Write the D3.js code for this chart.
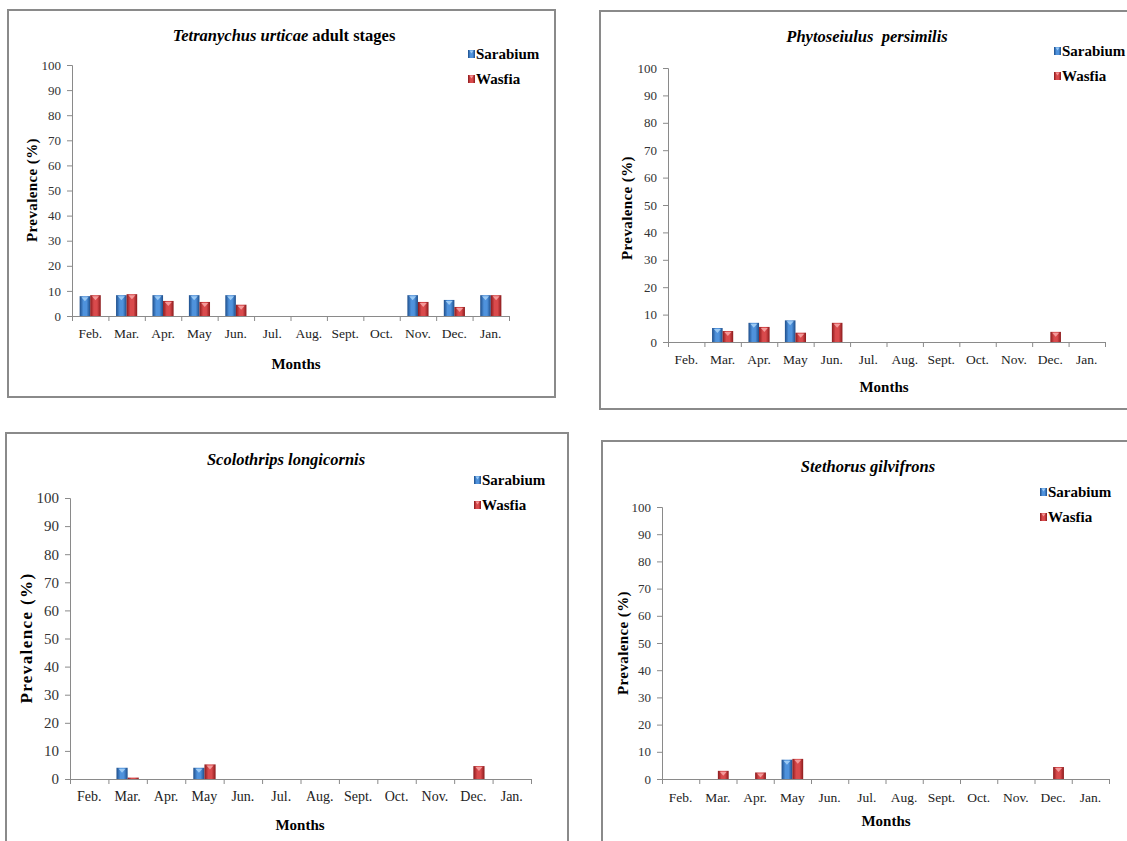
<!DOCTYPE html>
<html lang="en">
<head>
<meta charset="UTF-8">
<title>Prevalence by month</title>
<script src="https://d3js.org/d3.v7.min.js"></script>
<style>
  body { margin: 0; background: #fff; }
</style>
</head>
<body>
<script>
const FONT = "'Liberation Serif', 'Times New Roman', serif";

// months shown on every x axis
const months = ["Feb.", "Mar.", "Apr.", "May", "Jun.", "Jul.", "Aug.", "Sept.", "Oct.", "Nov.", "Dec.", "Jan."];
const seriesNames = ["Sarabium", "Wasfia"];
const yTicks = [0, 10, 20, 30, 40, 50, 60, 70, 80, 90, 100];

// values (prevalence %)
const tetranychusSarabium = [7.9, 8.3, 8.3, 8.3, 8.3, 0, 0, 0, 0, 8.3, 6.4, 8.3];
const tetranychusWasfia   = [8.3, 8.7, 6.0, 5.6, 4.5, 0, 0, 0, 0, 5.6, 3.6, 8.3];
const phytoseiulusSarabium = [0, 5.1, 7.0, 7.9, 0, 0, 0, 0, 0, 0, 0, 0];
const phytoseiulusWasfia   = [0, 4.0, 5.5, 3.4, 7.0, 0, 0, 0, 0, 0, 3.7, 0];
const scolothripsSarabium = [0, 4.0, 0, 4.0, 0, 0, 0, 0, 0, 0, 0, 0];
const scolothripsWasfia   = [0, 0.5, 0, 5.2, 0, 0, 0, 0, 0, 0, 4.6, 0];
const stethorusSarabium = [0, 0, 0, 7.1, 0, 0, 0, 0, 0, 0, 0, 0];
const stethorusWasfia   = [0, 3.0, 2.4, 7.4, 0, 0, 0, 0, 0, 0, 4.4, 0];

// layout of the four panels
const panels = [
  { title: [["Tetranychus urticae", true], [" adult stages", false]],
    s1: tetranychusSarabium, s2: tetranychusWasfia,
    box: [8, 10, 547, 387], x0: 72, x1: 509, yTop: 65, yBot: 316,
    titleX: 284, titleY: 41, legX: 468, legY: 56, monthY: 338, monthsX: 296, monthsY: 369,
    yTitleX: 32, yTitleY: 190, tickFs: 13, monFs: 13.5, yTitleFs: 15, yTitleLs: 0.4 },
  { title: [["Phytoseiulus  persimilis", true]],
    s1: phytoseiulusSarabium, s2: phytoseiulusWasfia,
    box: [600, 11, 540, 398], x0: 668, x1: 1105, yTop: 68, yBot: 342,
    titleX: 867, titleY: 42, legX: 1054, legY: 53, monthY: 364, monthsX: 884, monthsY: 392,
    yTitleX: 627, yTitleY: 208, tickFs: 13, monFs: 13.5, yTitleFs: 15, yTitleLs: 0.4 },
  { title: [["Scolothrips longicornis", true]],
    s1: scolothripsSarabium, s2: scolothripsWasfia,
    box: [6, 433, 562, 430], x0: 70, x1: 531, yTop: 498, yBot: 779,
    titleX: 286, titleY: 465, legX: 474, legY: 482, monthY: 801, monthsX: 300, monthsY: 830,
    yTitleX: 26, yTitleY: 638, tickFs: 15, monFs: 14, yTitleFs: 17, yTitleLs: 1.4 },
  { title: [["Stethorus gilvifrons", true]],
    s1: stethorusSarabium, s2: stethorusWasfia,
    box: [602, 441, 540, 420], x0: 662, x1: 1109, yTop: 507, yBot: 779,
    titleX: 868, titleY: 472, legX: 1040, legY: 494, monthY: 802, monthsX: 886, monthsY: 826,
    yTitleX: 623, yTitleY: 643, tickFs: 13, monFs: 13.5, yTitleFs: 15, yTitleLs: 0.4 }
];

const colors = {
  Sarabium: { edge: "#1d4d8a", mid: "#4f92dc", tri: "#9ccaf4" },
  Wasfia:   { edge: "#8a1a1c", mid: "#d94a4c", tri: "#f49a9a" }
};

const svg = d3.select("body").append("svg")
  .attr("width", 1127).attr("height", 841);

const defs = svg.append("defs");
seriesNames.forEach(name => {
  const g = defs.append("linearGradient").attr("id", "grad-" + name)
    .attr("x1", "0%").attr("x2", "100%").attr("y1", "0%").attr("y2", "0%");
  g.append("stop").attr("offset", "0%").attr("stop-color", colors[name].edge);
  g.append("stop").attr("offset", "35%").attr("stop-color", colors[name].mid);
  g.append("stop").attr("offset", "65%").attr("stop-color", colors[name].mid);
  g.append("stop").attr("offset", "100%").attr("stop-color", colors[name].edge);
});

panels.forEach(p => {
  const g = svg.append("g").style("font-family", FONT);
  const [bx, by, bw, bh] = p.box;

  g.append("rect")
    .attr("x", bx).attr("y", by).attr("width", bw).attr("height", bh)
    .attr("fill", "#fff").attr("stroke", "#8a8a8a").attr("stroke-width", 2);

  const x = d3.scaleBand().domain(months).range([p.x0, p.x1]);
  const y = d3.scaleLinear().domain([0, 100]).range([p.yBot, p.yTop]);
  const pairW = x.bandwidth() * 0.58;
  const sub = d3.scaleBand().domain(seriesNames).range([0, pairW]);

  // y axis
  const yAxis = g.append("g")
    .attr("transform", `translate(${p.x0},0)`)
    .call(d3.axisLeft(y).tickValues(yTicks).tickSize(5).tickPadding(6));
  yAxis.attr("font-family", null).attr("font-size", null);
  yAxis.select(".domain").attr("stroke", "#8a8a8a");
  yAxis.selectAll(".tick line").attr("stroke", "#8a8a8a");
  yAxis.selectAll(".tick text")
    .style("font-family", FONT)
    .style("font-size", p.tickFs + "px").attr("fill", "#333");

  // x axis: ticks on category boundaries
  const xb = d3.scaleLinear().domain([0, months.length]).range([p.x0, p.x1]);
  const xAxis = g.append("g")
    .attr("transform", `translate(0,${p.yBot})`)
    .call(d3.axisBottom(xb).tickValues(d3.range(months.length + 1)).tickSize(5).tickFormat(""));
  xAxis.select(".domain").attr("stroke", "#8a8a8a");
  xAxis.selectAll(".tick line").attr("stroke", "#8a8a8a");

  g.selectAll(".month").data(months).join("text")
    .attr("x", d => x(d) + x.bandwidth() / 2)
    .attr("y", p.monthY)
    .attr("text-anchor", "middle")
    .style("font-family", FONT)
    .style("font-size", p.monFs + "px").attr("fill", "#222")
    .text(d => d);

  // bars
  const rows = [];
  months.forEach((m, i) => {
    rows.push({ m, s: "Sarabium", v: p.s1[i] });
    rows.push({ m, s: "Wasfia", v: p.s2[i] });
  });
  const bars = rows.filter(d => d.v > 0);
  const offset = (x.bandwidth() - pairW) / 2;

  g.selectAll(".bar").data(bars).join("rect")
    .attr("x", d => x(d.m) + offset + sub(d.s))
    .attr("y", d => y(d.v))
    .attr("width", sub.bandwidth())
    .attr("height", d => p.yBot - y(d.v))
    .attr("fill", d => `url(#grad-${d.s})`);

  // small bevel highlight on top of each bar
  g.selectAll(".tri").data(bars.filter(d => p.yBot - y(d.v) > 4)).join("path")
    .attr("d", d => {
      const cx = x(d.m) + offset + sub(d.s) + sub.bandwidth() / 2;
      const ty = y(d.v) + 1;
      const hw = Math.min(3.5, sub.bandwidth() / 3);
      const th = Math.min(4, p.yBot - y(d.v) - 2);
      return `M${cx - hw},${ty}L${cx + hw},${ty}L${cx},${ty + th}Z`;
    })
    .attr("fill", d => colors[d.s].tri);

  // title
  const t = g.append("text")
    .attr("x", p.titleX).attr("y", p.titleY)
    .attr("text-anchor", "middle")
    .style("font-family", FONT)
    .style("font-size", "16.5px").style("font-weight", "bold");
  p.title.forEach(([txt, it]) => {
    t.append("tspan").style("font-style", it ? "italic" : "normal")
      .attr("xml:space", "preserve").text(txt);
  });

  // legend
  const leg = g.selectAll(".leg").data(seriesNames).join("g")
    .attr("transform", (d, i) => `translate(${p.legX},${p.legY + i * 25})`);
  leg.append("rect").attr("x", 0).attr("y", -6).attr("width", 7).attr("height", 8)
    .attr("fill", d => `url(#grad-${d})`);
  leg.append("path").attr("d", "M1.5,-5.5L5.5,-5.5L3.5,-2.5Z")
    .attr("fill", d => colors[d].tri);
  leg.append("text").attr("x", 8).attr("y", 3)
    .style("font-family", FONT)
    .style("font-size", "15px").style("font-weight", "bold")
    .text(d => d);

  // axis titles
  g.append("text")
    .attr("x", p.monthsX).attr("y", p.monthsY)
    .attr("text-anchor", "middle")
    .style("font-family", FONT)
    .style("font-size", "15px").style("font-weight", "bold")
    .text("Months");

  g.append("text")
    .attr("transform", `translate(${p.yTitleX},${p.yTitleY}) rotate(-90)`)
    .attr("text-anchor", "middle")
    .attr("dy", "0.35em")
    .style("font-family", FONT)
    .style("font-size", p.yTitleFs + "px").style("font-weight", "bold")
    .style("letter-spacing", p.yTitleLs + "px")
    .text("Prevalence (%)");
});
</script>
</body>
</html>
